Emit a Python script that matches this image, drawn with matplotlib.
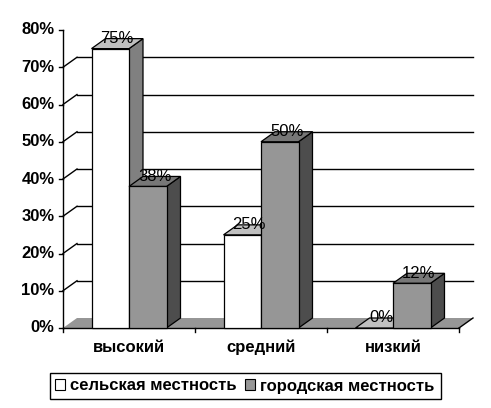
import matplotlib.pyplot as plt
from matplotlib.patches import Polygon, Patch

plt.rcParams['font.family'] = ['Liberation Sans', 'DejaVu Sans']

categories = ['высокий', 'средний', 'низкий']
series_names = ['сельская местность', 'городская местность']
rural = [75, 25, 0]
urban = [38, 50, 12]
value_labels = [['75%', '25%', '0%'], ['38%', '50%', '12%']]
yticks = [0, 10, 20, 30, 40, 50, 60, 70, 80]

# face / top / side colours for each series (Excel 3D look)
colors = [('#ffffff', '#c0c0c0', '#808080'),
          ('#969696', '#777777', '#4d4d4d')]

# projection: 1 category = 132 px, 1 % = 3.725 px
DX = 14 / 132
DY = 10 / 3.725
W = 37.5 / 132

fig = plt.figure(figsize=(4.91, 4.08), dpi=100)
ax = fig.add_axes([0, 0, 1, 1])
ax.set_xlim(-63 / 132, (491 - 63) / 132)
ax.set_ylim(-80 / 3.725, 328 / 3.725)
ax.axis('off')

n = len(categories)

# floor
ax.add_patch(Polygon([(0, 0), (n, 0), (n + DX, DY), (DX, DY)], closed=True,
                     facecolor='#969696', edgecolor='none', zorder=1))
ax.plot([n, n + DX], [0, DY], color='black', lw=1, zorder=1.5)

# back wall gridlines + left wall diagonals
for v in yticks[1:-1]:
    ax.plot([DX, n + DX], [v + DY, v + DY], color='black', lw=1, zorder=1)
    ax.plot([0, DX], [v, v + DY], color='black', lw=1, zorder=1)

# axes lines and ticks
ax.plot([0, 0], [0, yticks[-1]], color='black', lw=1, zorder=2)
ax.plot([0, n], [0, 0], color='black', lw=1, zorder=2)
for v in yticks:
    ax.plot([-0.03, 0], [v, v], color='black', lw=1, zorder=2)
    ax.text(-0.065, v, f'{v}%', ha='right', va='center', fontsize=12,
            fontweight='bold', zorder=10)
for i in range(n + 1):
    ax.plot([i, i], [0, -1.1], color='black', lw=1, zorder=2)
for i, c in enumerate(categories):
    ax.text(i + 0.5, -5.3, c, ha='center', va='center', fontsize=12,
            fontweight='bold', zorder=10)


def bar3d(x0, h, cols, z):
    face, top, side = cols
    x1 = x0 + W
    kw = dict(closed=True, edgecolor='black', lw=0.9, zorder=z)
    ax.add_patch(Polygon([(x1, 0), (x1 + DX, DY), (x1 + DX, h + DY), (x1, h)],
                         facecolor=side, **kw))
    ax.add_patch(Polygon([(x0, h), (x1, h), (x1 + DX, h + DY), (x0 + DX, h + DY)],
                         facecolor=top, **kw))
    if h > 0:
        ax.add_patch(Polygon([(x0, 0), (x1, 0), (x1, h), (x0, h)],
                             facecolor=face, **kw))


z = 3
for i in range(n):
    for s, vals in enumerate([rural, urban]):
        x0 = i + 0.5 - W + s * W
        bar3d(x0, vals[i], colors[s], z)
        z += 1
        ax.text(x0 + W / 2 + DX / 2, vals[i] + DY, value_labels[s][i],
                ha='center', va='center', fontsize=12, zorder=20)

handles = [Patch(facecolor=colors[0][0], edgecolor='black', lw=0.8),
           Patch(facecolor=colors[1][0], edgecolor='black', lw=0.8)]
leg = fig.legend(handles, series_names, loc='center', ncol=2,
                 bbox_to_anchor=(245 / 491, 1 - 386 / 408),
                 prop={'weight': 'bold', 'size': 12},
                 handlelength=0.6, handleheight=0.6, handletextpad=0.3,
                 columnspacing=0.5, borderpad=0.35, fancybox=False,
                 framealpha=1, edgecolor='black')
leg.get_frame().set_linewidth(1)

plt.savefig('out.png', dpi=100)
